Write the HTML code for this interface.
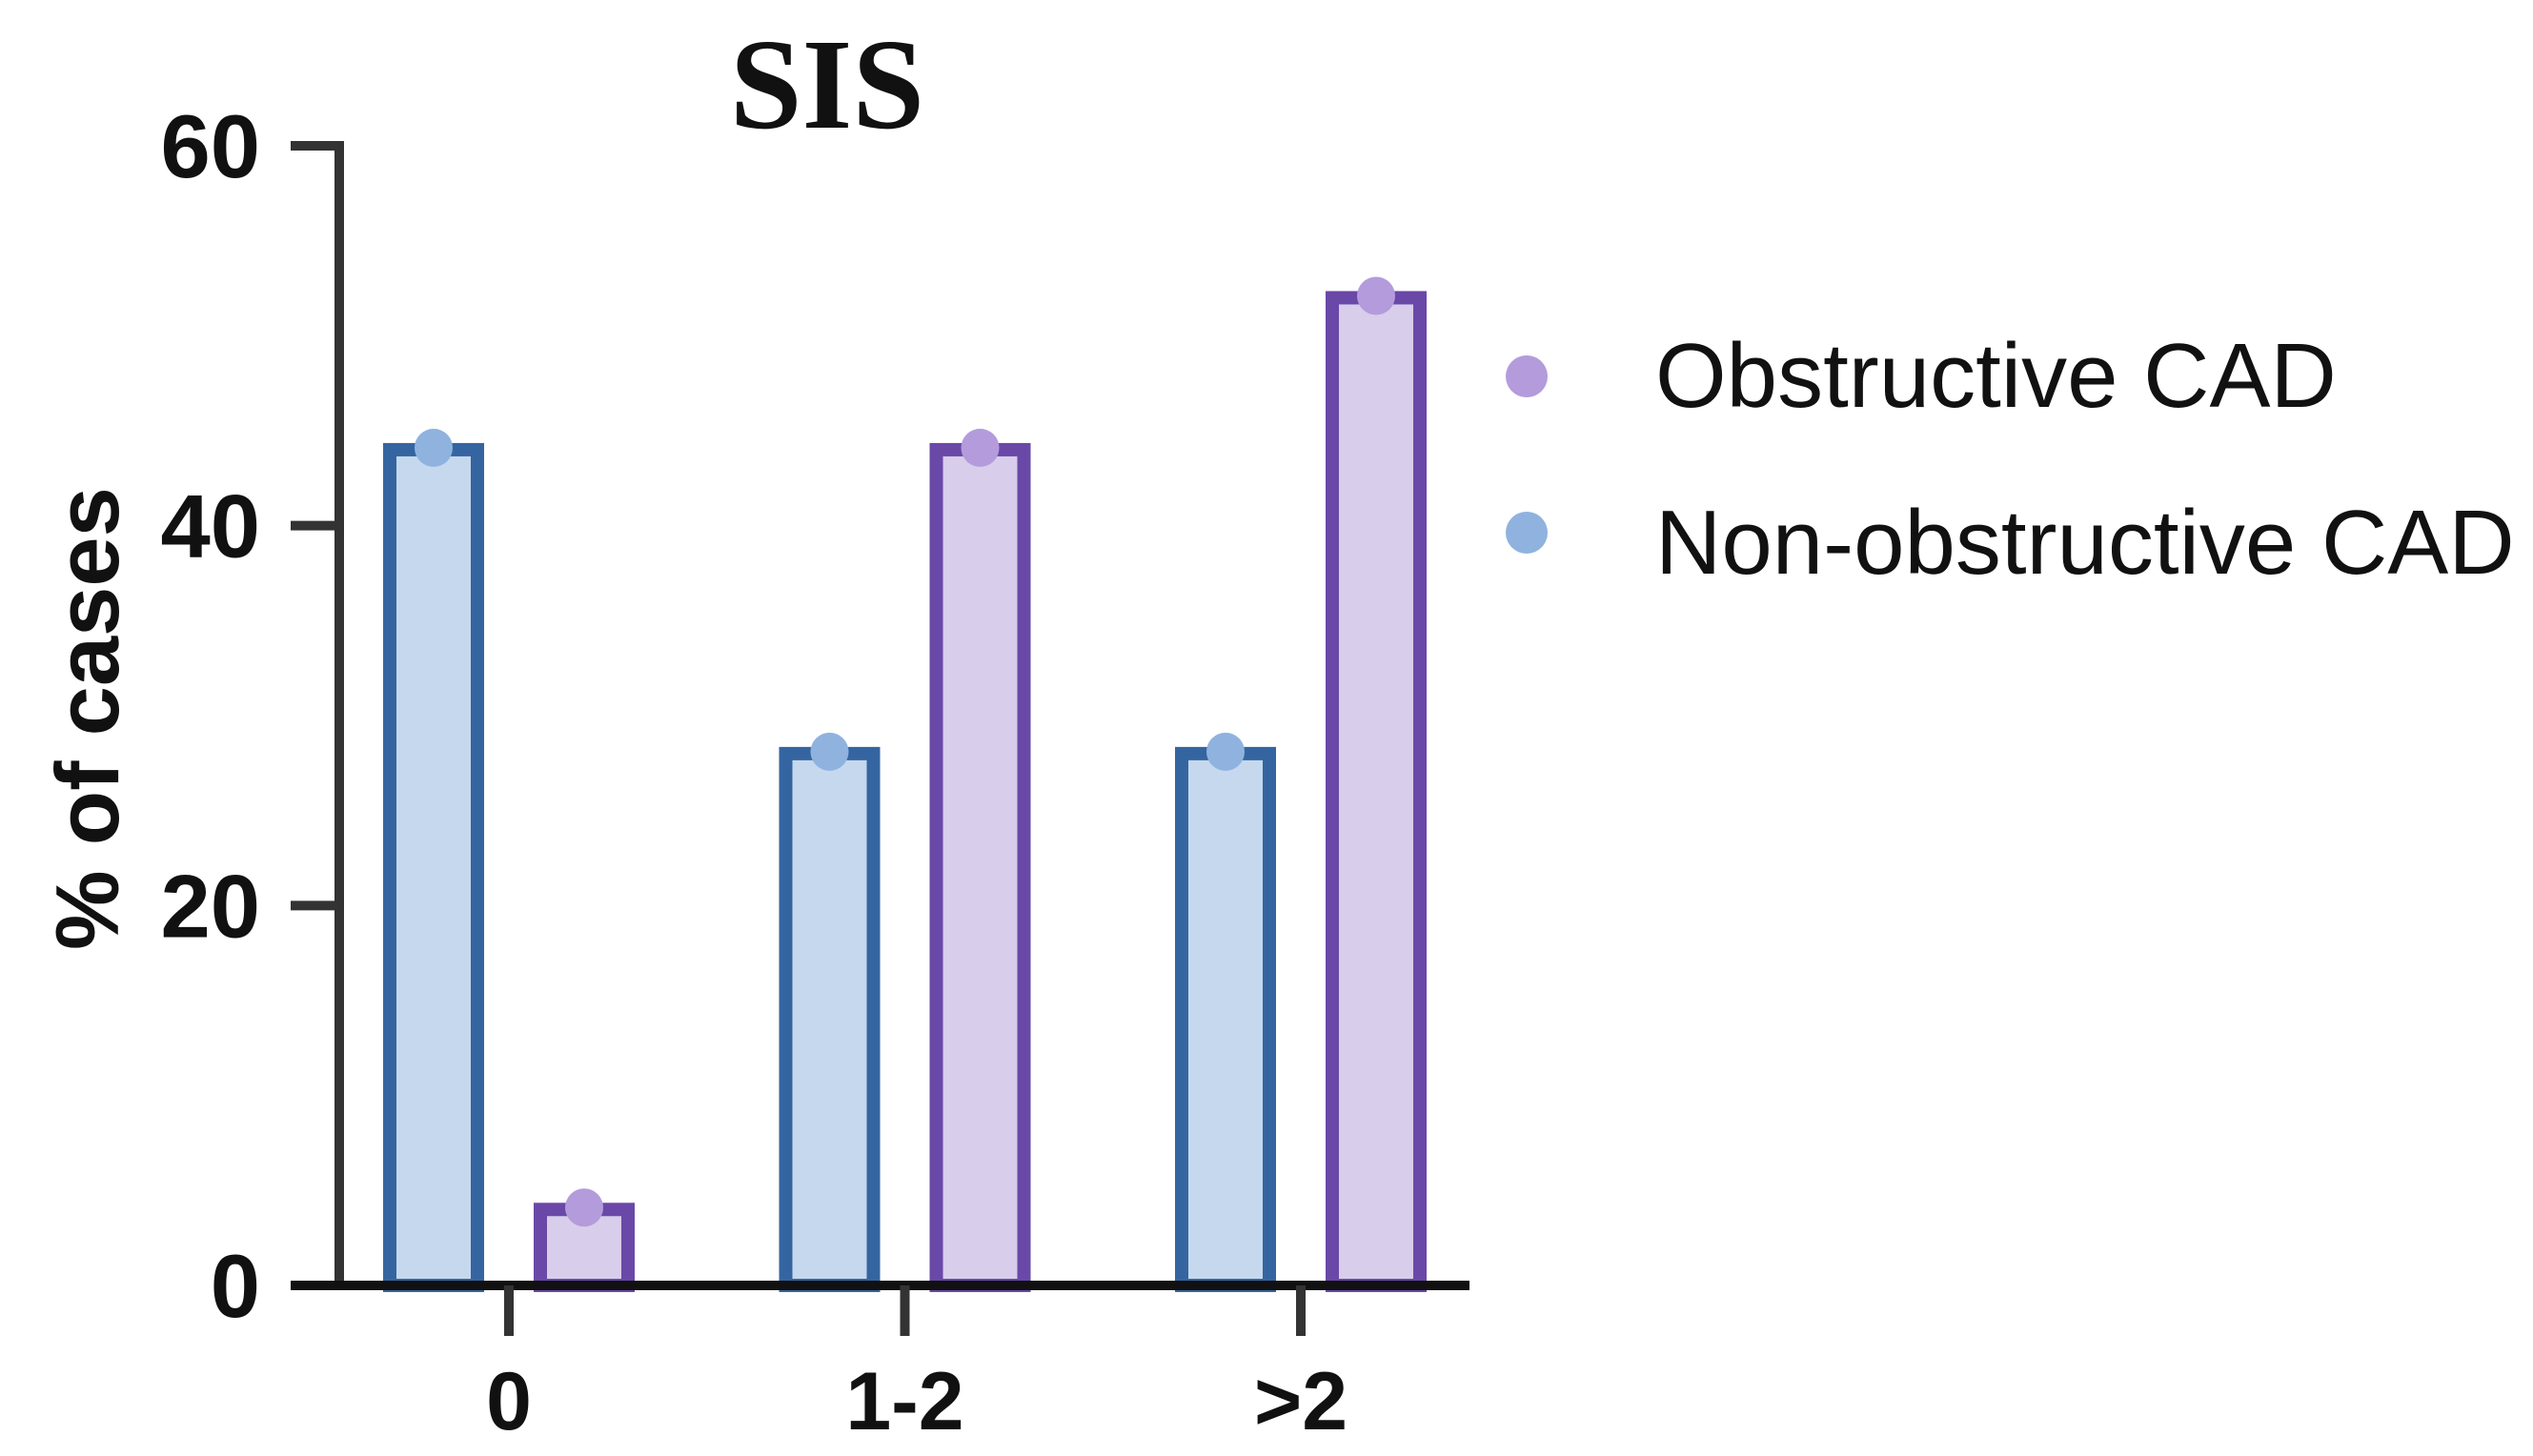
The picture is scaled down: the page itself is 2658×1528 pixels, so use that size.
<!DOCTYPE html>
<html><head><meta charset="utf-8"><style>
html,body{margin:0;padding:0;background:#fff;}
svg{display:block;}
</style></head><body>
<svg id="chart" width="2658" height="1528" viewBox="0 0 2658 1528" xmlns="http://www.w3.org/2000/svg">
<text x="868" y="134" text-anchor="middle" font-family="Liberation Serif, serif" font-weight="bold" font-size="136" fill="#111">SIS</text>
<text transform="translate(124,754) rotate(-90)" text-anchor="middle" font-family="Liberation Sans, sans-serif" font-weight="bold" font-size="94" fill="#111">% of cases</text>
<g id="bars"></g>
<g id="axes"></g>
<g>
<circle cx="1602" cy="395" r="22" fill="#b49bdc"/>
<text x="1737" y="427" font-family="Liberation Sans, sans-serif" font-size="96" fill="#111">Obstructive CAD</text>
<circle cx="1602" cy="559" r="22" fill="#8fb3de"/>
<text x="1737" y="602" font-family="Liberation Sans, sans-serif" font-size="96" fill="#111">Non-obstructive CAD</text>
</g>
</svg>
<script>
const categories = ["0", "1-2", ">2"];
const nonObstructive = [44, 28, 28];
const obstructive = [4, 44, 52];
const yTicks = [0, 20, 40, 60];

const NS = "http://www.w3.org/2000/svg";
const y0 = 1349, yTop = 153, yMax = 60;
function yScale(v){ return y0 - (v / yMax) * (y0 - yTop); }
const catX = [534, 949, 1365];
function xScale(i){ return catX[0] + i * (catX[2] - catX[0]) / (categories.length - 1); }
function mk(tag, attrs, parent){
  const e = document.createElementNS(NS, tag);
  for (const k in attrs) e.setAttribute(k, attrs[k]);
  parent.appendChild(e);
  return e;
}
const bars = document.getElementById('bars');
const axes = document.getElementById('axes');
const bw = 92, off = 79;
function drawBar(i, v, dx, stroke, fill, dot, name){
  const cx = xScale(i) + dx;
  const top = yScale(v);
  const r = mk('rect', {x: cx - bw/2, y: top, width: bw, height: y0 - top, fill: fill, stroke: stroke, 'stroke-width': 14}, bars);
  
  
  const c = mk('circle', {cx: cx, cy: top - 2, r: 20, fill: dot}, bars);
  
  
}
categories.forEach((c, i) => {
  drawBar(i, nonObstructive[i], -off, '#3565a0', '#c5d8ee', '#8fb3de', 'non-obstructive');
  drawBar(i, obstructive[i], off, '#6a48a8', '#d8cdea', '#b49bdc', 'obstructive');
});
const ya = mk('line', {x1: 356, y1: yTop - 5, x2: 356, y2: y0 + 5, stroke: '#333', 'stroke-width': 10}, axes);


yTicks.forEach(t => {
  const y = yScale(t);
  const l = mk('line', {x1: 305, y1: y, x2: 356, y2: y, stroke: '#333', 'stroke-width': 10}, axes);
  
  
  const tx = mk('text', {x: 273, y: y + 33, 'text-anchor': 'end', 'font-family': 'Liberation Sans, sans-serif', 'font-weight': 'bold', 'font-size': 94, fill: '#111'}, axes);
  tx.textContent = t;
  
  
});
const xa = mk('line', {x1: 305, y1: y0, x2: 1542, y2: y0, stroke: '#111', 'stroke-width': 10}, axes);


categories.forEach((c, i) => {
  const x = xScale(i);
  const l = mk('line', {x1: x, y1: y0, x2: x, y2: 1402, stroke: '#333', 'stroke-width': 10}, axes);
  
  
  const tx = mk('text', {x: x, y: 1500, 'text-anchor': 'middle', 'font-family': 'Liberation Sans, sans-serif', 'font-weight': 'bold', 'font-size': 86, fill: '#111'}, axes);
  tx.textContent = c;
  
  
});
</script>
</body></html>
